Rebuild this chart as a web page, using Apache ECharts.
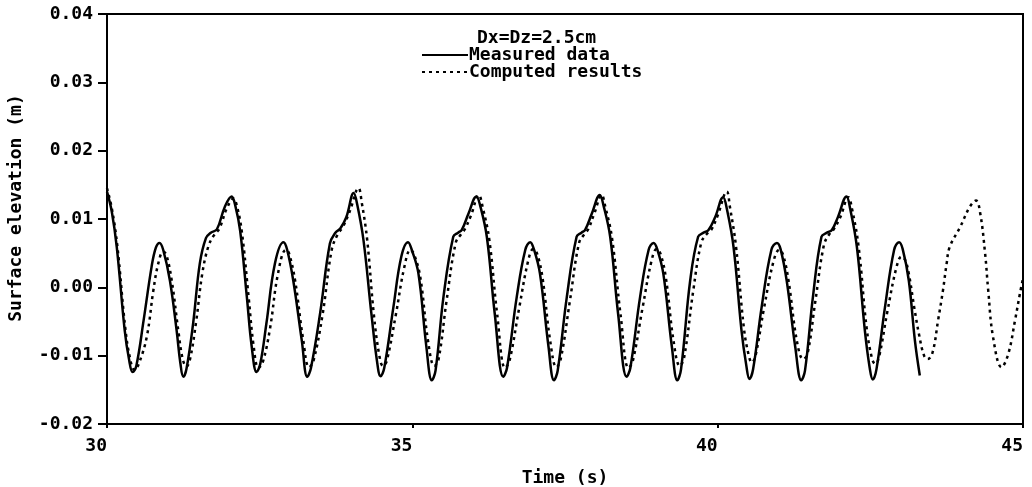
<!DOCTYPE html>
<html>
<head>
<meta charset="utf-8">
<title>Surface elevation</title>
<script src="https://cdn.jsdelivr.net/npm/echarts@6/dist/echarts.min.js"></script>
<style>
  html, body { margin: 0; padding: 0; background: #fff; }
  #chart { width: 1032px; height: 487px; }
</style>
</head>
<body>
<div id="chart"></div>
<script>
// time (s), surface elevation (m)
let measured = [
  [30.00, 0.0140], [30.08, 0.0110], [30.16, 0.0059], [30.29, -0.0063], [30.36, -0.0105],
  [30.42, -0.0124], [30.48, -0.0115], [30.60, -0.0048], [30.73, 0.0030], [30.80, 0.0058],
  [30.86, 0.0065], [30.92, 0.0055], [31.03, 0.0010], [31.14, -0.0063], [31.20, -0.0110],
  [31.25, -0.0131], [31.30, -0.0120], [31.41, -0.0053], [31.52, 0.0035], [31.62, 0.0072],
  [31.70, 0.0080], [31.80, 0.0085], [31.93, 0.0118], [32.04, 0.0133], [32.10, 0.0120],
  [32.18, 0.0083], [32.29, -0.0014], [32.37, -0.0087], [32.45, -0.0124], [32.51, -0.0112],
  [32.61, -0.0053], [32.75, 0.0035], [32.89, 0.0066], [32.95, 0.0055], [33.05, 0.0010],
  [33.19, -0.0078], [33.28, -0.0131], [33.34, -0.0118], [33.49, -0.0038], [33.65, 0.0064],
  [33.74, 0.0080], [33.82, 0.0086], [33.92, 0.0103], [34.04, 0.0138], [34.10, 0.0120],
  [34.20, 0.0069], [34.33, -0.0039], [34.42, -0.0107], [34.48, -0.0130], [34.54, -0.0118],
  [34.69, -0.0029], [34.82, 0.0045], [34.93, 0.0066], [34.99, 0.0055], [35.10, 0.0020],
  [35.23, -0.0087], [35.32, -0.0136], [35.38, -0.0122], [35.51, -0.0014], [35.67, 0.0074],
  [35.75, 0.0080], [35.81, 0.0084], [35.92, 0.0108], [36.05, 0.0133], [36.11, 0.0120],
  [36.22, 0.0074], [36.35, -0.0039], [36.49, -0.0131], [36.55, -0.0118], [36.71, -0.0014],
  [36.85, 0.0055], [36.93, 0.0066], [36.99, 0.0056], [37.09, 0.0020], [37.23, -0.0087],
  [37.32, -0.0136], [37.38, -0.0122], [37.53, -0.0014], [37.69, 0.0074], [37.77, 0.0080],
  [37.83, 0.0084], [37.94, 0.0108], [38.07, 0.0135], [38.13, 0.0120], [38.24, 0.0074],
  [38.37, -0.0039], [38.51, -0.0131], [38.57, -0.0118], [38.73, -0.0014], [38.87, 0.0055],
  [38.95, 0.0065], [39.01, 0.0056], [39.11, 0.0020], [39.25, -0.0087], [39.34, -0.0136],
  [39.40, -0.0120], [39.55, 0.0010], [39.68, 0.0074], [39.77, 0.0080], [39.85, 0.0084],
  [39.96, 0.0103], [40.09, 0.0132], [40.15, 0.0115], [40.26, 0.0059], [40.39, -0.0063],
  [40.47, -0.0115], [40.52, -0.0134], [40.58, -0.0120], [40.72, -0.0029], [40.88, 0.0055],
  [40.97, 0.0065], [41.03, 0.0056], [41.13, 0.0010], [41.27, -0.0087], [41.37, -0.0136],
  [41.43, -0.0122], [41.56, -0.0014], [41.70, 0.0074], [41.79, 0.0080], [41.87, 0.0084],
  [41.97, 0.0103], [42.11, 0.0133], [42.17, 0.0115], [42.28, 0.0059], [42.41, -0.0063],
  [42.49, -0.0118], [42.54, -0.0135], [42.60, -0.0120], [42.74, -0.0029], [42.89, 0.0055],
  [42.97, 0.0066], [43.03, 0.0056], [43.13, 0.0010], [43.23, -0.0078], [43.31, -0.0129]
];

let computed = [
  [30.00, 0.0145], [30.08, 0.0115], [30.17, 0.0060], [30.30, -0.0060], [30.38, -0.0105],
  [30.45, -0.0121], [30.52, -0.0112], [30.65, -0.0073], [30.76, -0.0004], [30.84, 0.0035],
  [30.92, 0.0052], [30.97, 0.0048], [31.06, 0.0010], [31.17, -0.0065], [31.24, -0.0105],
  [31.30, -0.0116], [31.36, -0.0105], [31.46, -0.0050], [31.56, 0.0020], [31.66, 0.0060],
  [31.75, 0.0076], [31.84, 0.0086], [31.96, 0.0115], [32.07, 0.0130], [32.13, 0.0118],
  [32.21, 0.0080], [32.32, -0.0015], [32.40, -0.0085], [32.48, -0.0118], [32.55, -0.0110],
  [32.67, -0.0060], [32.80, 0.0020], [32.93, 0.0055], [32.98, 0.0050], [33.08, 0.0010],
  [33.21, -0.0075], [33.31, -0.0117], [33.38, -0.0108], [33.53, -0.0040], [33.68, 0.0055],
  [33.78, 0.0078], [33.86, 0.0088], [33.97, 0.0110], [34.12, 0.0145], [34.17, 0.0125],
  [34.26, 0.0070], [34.37, -0.0040], [34.46, -0.0100], [34.52, -0.0115], [34.58, -0.0108],
  [34.73, -0.0040], [34.87, 0.0030], [34.97, 0.0055], [35.03, 0.0048], [35.13, 0.0015],
  [35.26, -0.0080], [35.36, -0.0115], [35.43, -0.0105], [35.56, -0.0020], [35.71, 0.0065],
  [35.80, 0.0078], [35.86, 0.0085], [35.96, 0.0105], [36.09, 0.0135], [36.15, 0.0118],
  [36.26, 0.0070], [36.39, -0.0040], [36.52, -0.0118], [36.59, -0.0108], [36.75, -0.0030],
  [36.90, 0.0040], [36.98, 0.0056], [37.04, 0.0050], [37.13, 0.0015], [37.26, -0.0080],
  [37.36, -0.0117], [37.43, -0.0105], [37.58, -0.0020], [37.73, 0.0065], [37.82, 0.0078],
  [37.88, 0.0085], [37.98, 0.0108], [38.10, 0.0135], [38.16, 0.0118], [38.27, 0.0072],
  [38.41, -0.0040], [38.54, -0.0118], [38.61, -0.0108], [38.77, -0.0030], [38.92, 0.0040],
  [39.00, 0.0056], [39.06, 0.0050], [39.15, 0.0015], [39.28, -0.0080], [39.38, -0.0115],
  [39.45, -0.0103], [39.60, -0.0005], [39.73, 0.0065], [39.82, 0.0078], [39.90, 0.0085],
  [40.00, 0.0105], [40.15, 0.0140], [40.20, 0.0118], [40.30, 0.0060], [40.43, -0.0060],
  [40.51, -0.0100], [40.56, -0.0110], [40.62, -0.0100], [40.76, -0.0030], [40.92, 0.0040],
  [41.01, 0.0055], [41.07, 0.0048], [41.16, 0.0010], [41.30, -0.0080], [41.40, -0.0105],
  [41.47, -0.0098], [41.60, -0.0020], [41.74, 0.0062], [41.83, 0.0078], [41.90, 0.0085],
  [42.01, 0.0103], [42.14, 0.0132], [42.20, 0.0115], [42.31, 0.0058], [42.44, -0.0060],
  [42.53, -0.0105], [42.58, -0.0112], [42.64, -0.0103], [42.78, -0.0035], [42.93, 0.0030],
  [43.01, 0.0045], [43.07, 0.0040], [43.13, 0.0020], [43.22, -0.0030], [43.30, -0.0070],
  [43.38, -0.0100], [43.44, -0.0105], [43.52, -0.0095], [43.61, -0.0048], [43.69, -0.0004],
  [43.75, 0.0035], [43.80, 0.0059], [43.97, 0.0088], [44.13, 0.0118], [44.23, 0.0127],
  [44.30, 0.0108], [44.38, 0.0049], [44.43, -0.0004], [44.51, -0.0073], [44.65, -0.0117],
  [44.76, -0.0097], [44.87, -0.0048], [44.95, -0.0009], [45.00, 0.0013]
];

let seriesNames = ['Measured data', 'Computed results'];
let caseLabel = 'Dx=Dz=2.5cm';

let font = '"DejaVu Sans Mono", "Liberation Mono", monospace';

let chart = echarts.init(document.getElementById('chart'), null, { renderer: 'canvas' });
let option = {
  animation: false,
  backgroundColor: '#fff',
  title: {
    text: caseLabel,
    left: 477,
    top: 29,
    padding: 0,
    textStyle: { fontFamily: font, fontSize: 18, fontWeight: 'bold', color: '#000', lineHeight: 18 }
  },
  legend: {
    orient: 'vertical',
    left: 421,
    top: 46,
    itemWidth: 46,
    itemHeight: 14,
    itemGap: -1,
    padding: 0,
    data: seriesNames,
    itemStyle: { opacity: 0 },
    textStyle: { fontFamily: font, fontSize: 18, fontWeight: 'bold', color: '#000', lineHeight: 14, padding: [0, 0, 0, -4] }
  },
  grid: {
    left: 107,
    right: 9,
    top: 14,
    bottom: 63,
    outerBoundsMode: 'none',
    show: true,
    borderColor: '#000',
    borderWidth: 2
  },
  xAxis: {
    type: 'value',
    min: 30,
    max: 45,
    interval: 5,
    name: 'Time (s)',
    nameLocation: 'middle',
    nameGap: 45,
    nameTextStyle: { fontFamily: font, fontSize: 18, fontWeight: 'bold', color: '#000' },
    axisLine: { onZero: false, lineStyle: { color: '#000', width: 2 } },
    axisTick: { show: true, length: 4, lineStyle: { color: '#000', width: 2 } },
    axisLabel: { margin: 13, align: 'right', fontFamily: font, fontSize: 18, fontWeight: 'bold', color: '#000' },
    splitLine: { show: false }
  },
  yAxis: {
    type: 'value',
    min: -0.02,
    max: 0.04,
    interval: 0.01,
    name: 'Surface elevation (m)',
    nameLocation: 'middle',
    nameGap: 82,
    nameTextStyle: { fontFamily: font, fontSize: 18, fontWeight: 'bold', color: '#000', padding: [0, 0, 0, 22] },
    axisLine: { show: true, onZero: false, lineStyle: { color: '#000', width: 2 } },
    axisTick: { show: true, length: 9, lineStyle: { color: '#000', width: 2 } },
    axisLabel: {
      margin: 14,
      fontFamily: font,
      fontSize: 18,
      fontWeight: 'bold',
      color: '#000',
      formatter: function (v) {
        if (Math.abs(v) < 1e-9) return '0.00';
        return v.toFixed(2);
      }
    },
    splitLine: { show: false }
  },
  series: [
    {
      name: seriesNames[0],
      type: 'line',
      data: measured,
      smooth: 0.4,
      symbol: 'none',
      lineStyle: { color: '#000', width: 2.5, type: 'solid' },
      itemStyle: { color: '#000' }
    },
    {
      name: seriesNames[1],
      type: 'line',
      data: computed,
      smooth: 0.4,
      symbol: 'none',
      lineStyle: { color: '#000', width: 2.5, type: [3, 4] },
      itemStyle: { color: '#000' }
    }
  ]
};
chart.setOption(option);
</script>
</body>
</html>
